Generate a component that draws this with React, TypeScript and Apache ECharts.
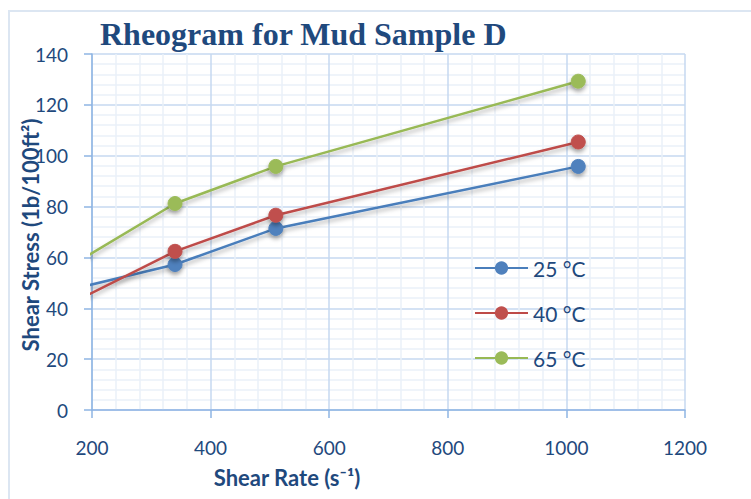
import React, { useEffect, useRef } from "react";
import * as echarts from "echarts";

const shearRate = [170, 340, 510, 1020];
const stress25 = [47.7, 57.2, 71.4, 95.8];
const stress40 = [42.6, 62.4, 76.6, 105.4];
const stress65 = [57.5, 81.2, 95.8, 129.3];
const seriesNames = ["25 °C", "40 °C", "65 °C"];
const lineColors = ["#4A7EBB", "#BE4B48", "#98B954"];
const markerColors = ["#4F81BD", "#C0504D", "#9BBB59"];

const TEXT = "#1F497D";
const FONT = "Lato, 'Open Sans', sans-serif";

export default function App() {
  const ref = useRef<HTMLDivElement>(null);
  useEffect(() => {
    if (!ref.current) return;
    const chart = echarts.init(ref.current, undefined, { renderer: "svg" });
    const all = [stress25, stress40, stress65];
    const series = all.map((vals, i) => ({
      name: seriesNames[i],
      type: "line",
      data: vals.map((v, j) => (j === 0 ? { value: [shearRate[j], v], symbol: "none" } : [shearRate[j], v])),
      clip: true,
      symbol: "circle",
      symbolSize: 14,
      showAllSymbol: true,
      lineStyle: {
        color: lineColors[i],
        width: 2.5,
        shadowColor: "rgba(0,0,0,0.3)",
        shadowBlur: 4,
        shadowOffsetY: 3,
      },
      itemStyle: {
        color: markerColors[i],
        borderColor: markerColors[i],
        borderWidth: 1,
        shadowColor: "rgba(0,0,0,0.35)",
        shadowBlur: 4,
        shadowOffsetY: 3,
      },
      emphasis: { disabled: true },
    }));
    chart.setOption({
      animation: false,
      backgroundColor: "#ffffff",
      grid: { left: 92, right: 66, top: 54, bottom: 89 },
      title: {
        text: "Rheogram for Mud Sample D",
        left: 95,
        top: 13,
        textStyle: {
          fontFamily: "'Liberation Serif', 'Times New Roman', serif",
          fontWeight: "bold",
          fontSize: 32,
          color: TEXT,
        },
      },
      legend: {
        orient: "vertical",
        left: 474,
        top: 257,
        padding: 0,
        itemWidth: 53,
        itemHeight: 14,
        itemGap: 23,
        data: seriesNames,
        textStyle: { color: TEXT, fontSize: 21, fontFamily: FONT, lineHeight: 22 },
      },
      xAxis: {
        type: "value",
        min: 200,
        max: 1200,
        interval: 200,
        axisLine: { show: true, lineStyle: { color: "#8EB4E3", width: 1.5 } },
        axisTick: { show: true, inside: false, length: 8, lineStyle: { color: "#8EB4E3", width: 1.5 } },
        axisLabel: { color: TEXT, fontSize: 19, fontFamily: FONT, margin: 28, formatter: (v: number) => String(v) },
        splitLine: { show: true, lineStyle: { color: "#C6D9F1", width: 1.5 } },
        minorTick: { show: false, splitNumber: 5 },
        minorSplitLine: { show: true, lineStyle: { color: "#EAF0F8", width: 1.5 } },
      },
      yAxis: {
        type: "value",
        min: 0,
        max: 140,
        interval: 20,
        axisLine: { show: true, lineStyle: { color: "#8EB4E3", width: 1.5 } },
        axisTick: { show: true, inside: false, length: 8, lineStyle: { color: "#8EB4E3", width: 1.5 } },
        axisLabel: { color: TEXT, fontSize: 19, fontFamily: FONT, margin: 24 },
        splitLine: { show: true, lineStyle: { color: "#C6D9F1", width: 1.5 } },
        minorTick: { show: false, splitNumber: 5 },
        minorSplitLine: { show: true, lineStyle: { color: "#EAF0F8", width: 1.5 } },
      },
      graphic: [
        {
          type: "rect",
          silent: true,
          shape: { x: 9, y: 11, width: 800, height: 600 },
          style: { fill: "none", stroke: "#DCE6F2", lineWidth: 2 },
          z: -10,
        },
        {
          type: "text",
          x: 30,
          y: 235,
          rotation: Math.PI / 2,
          style: {
            text: "Shear Stress (1b/100ft²)",
            fill: TEXT,
            font: "bold 22px " + FONT,
            textAlign: "center",
            textVerticalAlign: "middle",
          },
        },
        {
          type: "text",
          x: 287,
          y: 477,
          style: {
            text: "Shear Rate (s⁻¹)",
            fill: TEXT,
            font: "bold 22px " + FONT,
            textAlign: "center",
            textVerticalAlign: "middle",
          },
        },
      ],
      series,
    });
    return () => chart.dispose();
  }, []);
  return (
    <div
      ref={ref}
      style={{ position: "fixed", left: 0, top: 0, width: 751, height: 499 }}
    />
  );
}
